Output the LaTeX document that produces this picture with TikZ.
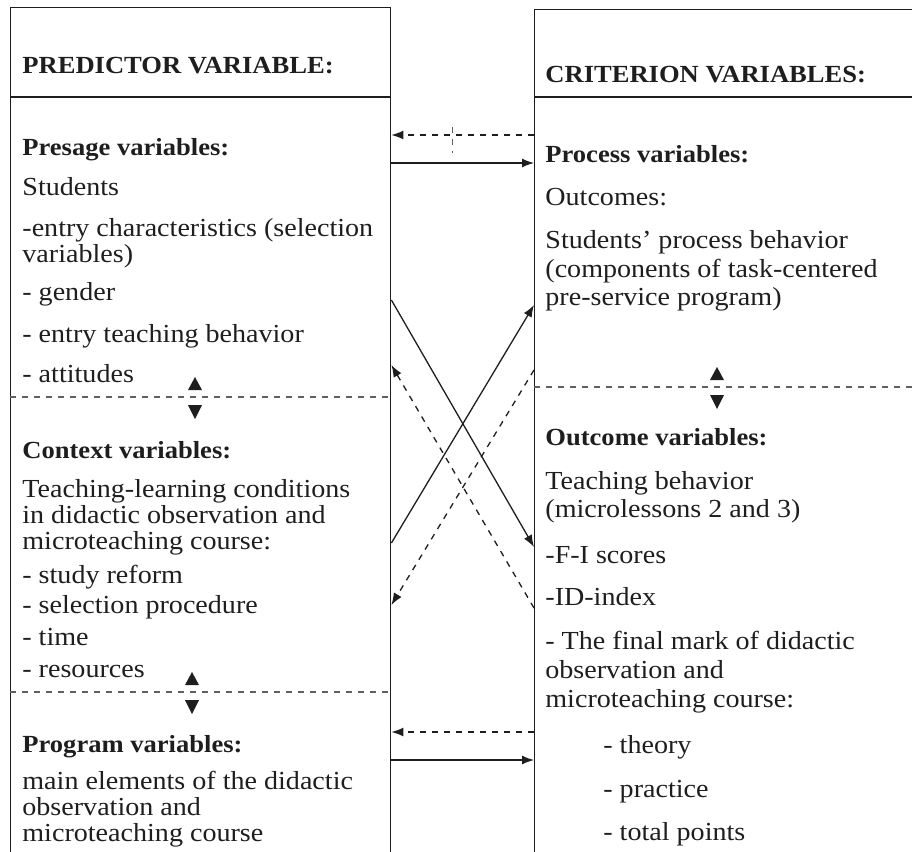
\documentclass[tikz,border=0pt]{standalone}
\usepackage{fontspec}
\setmainfont[FakeStretch=1.08]{Liberation Serif}
\usetikzlibrary{arrows.meta,positioning}
\definecolor{InkBlack}{RGB}{30,30,30}
\definecolor{RuleGray}{RGB}{95,95,95}

\begin{document}
\begin{tikzpicture}[x=0.5pt,y=-0.5pt,>={Latex[length=6pt,width=4.5pt]},
  txt/.style={anchor=base west,inner sep=0pt,text=InkBlack,font=\fontsize{13}{13}\selectfont},
  hd/.style={txt,font=\fontsize{12.3}{13}\selectfont\bfseries},
  frame/.style={draw=InkBlack,line width=0.7pt,inner sep=0pt,anchor=north west},
  sep/.style={RuleGray,dashed,line width=0.6pt},
  link/.style={InkBlack,line width=0.65pt,->},
  dlink/.style={link,dashed}]
  \useasboundingbox (0,0) rectangle (912,852);
  % the two columns
  \node[frame,minimum width=190pt,minimum height=426pt] (pred) at (10,7) {};
  \node[frame,minimum width=194pt,minimum height=426pt] (crit) at (534,9) {};
  \draw[InkBlack,line width=0.7pt] (pred.west |- 0,97) -- (pred.east |- 0,97);
  \draw[InkBlack,line width=0.7pt] (crit.west |- 0,97) -- (crit.east |- 0,97);
  % section rules with the small up/down markers
  \draw[sep] (pred.west |- 0,397) -- (pred.east |- 0,397);
  \draw[sep] (pred.west |- 0,692) -- (pred.east |- 0,692);
  \draw[sep] (crit.west |- 0,387) -- (crit.east |- 0,387);
  \foreach \x/\y in {195/397,192/692,717/387}{
    \fill[InkBlack] (\x-7,\y-7) -- (\x+7,\y-7) -- (\x,\y-20) -- cycle;
    \fill[InkBlack] (\x-7,\y+8) -- (\x+7,\y+8) -- (\x,\y+22) -- cycle;
  }
  % left column text
  \foreach \y/\t [count=\i] in {155/Presage variables:,458/Context variables:,752/Program variables:}
    \node[hd] (ph\i) at (22,\y) {\t};
  \node[hd] (predtitle) at (22,73) {PREDICTOR VARIABLE:};
  \foreach \y/\t [count=\i] in {195/Students,236/-entry characteristics (selection,262/variables),
      300/- gender,342/- entry teaching behavior,382/- attitudes,
      497/Teaching-learning conditions,523/in didactic observation and,549/microteaching course:,
      583/- study reform,613/- selection procedure,645/- time,677/- resources,
      789/main elements of the didactic,815/observation and,841/microteaching course}
    \node[txt] (pl\i) at (22,\y) {\t};
  % right column text
  \node[hd] (crittitle) at (545,82) {CRITERION VARIABLES:};
  \foreach \y/\t [count=\i] in {162/Process variables:,445/Outcome variables:}
    \node[hd] (ch\i) at (545,\y) {\t};
  \foreach \y/\t [count=\i] in {205/Outcomes:,248/Students’ process behavior,277/(components of task-centered,
      305/pre-service program),489/Teaching behavior,517/(microlessons 2 and 3),
      563/-F-I scores,605/-ID-index,649/- The final mark of didactic,678/observation and,
      707/microteaching course:}
    \node[txt] (cl\i) at (545,\y) {\t};
  \foreach \y/\t [count=\i] in {753/- theory,797/- practice,840/- total points}
    \node[txt] (ci\i) at (603,\y) {\t};
  % ends of the connectors on the column edges
  \foreach \n/\y in {a/135,b/163,c/300,d/365,e/543,f/605,g/732,h/760}
    \coordinate (p\n) at (pred.east |- 0,\y);
  \foreach \n/\y in {a/135,b/163,c/305,d/370,e/547,f/608,g/732,h/760}
    \coordinate (c\n) at (crit.west |- 0,\y);
  \coordinate (tickA) at (452,127);
  \coordinate (tickB) at (452,153);
  \draw[dlink] (ca) -- (pa);
  \draw[RuleGray,line width=0.4pt,dashed] (tickA) -- (tickB);
  \draw[link] (pb) -- (cb);
  \draw[link] (pc) -- (ce);
  \draw[link] (pe) -- (cc);
  \draw[dlink] (cf) -- (pd);
  \draw[dlink] (cd) -- (pf);
  \draw[dlink] (cg) -- (pg);
  \draw[link] (ph) -- (ch);
\end{tikzpicture}
\end{document}
